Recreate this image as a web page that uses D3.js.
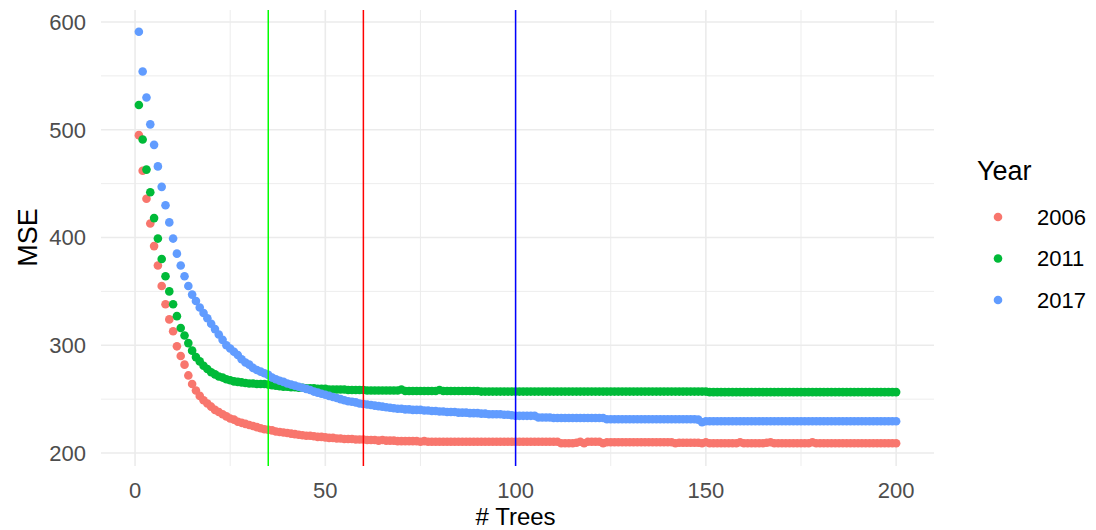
<!DOCTYPE html>
<html>
<head>
<meta charset="utf-8">
<script src="https://cdn.jsdelivr.net/npm/d3@7"></script>
<style>
  body { margin: 0; background: #fff; }
  text { font-family: "Liberation Sans", Arial, sans-serif; }
</style>
</head>
<body>
<div id="chart"></div>
<script>
// MSE by number of trees (trees 1..200)
var years = ['2006', '2011', '2017'];
var colors = ['#F8766D', '#00BA38', '#619CFF'];

var mse2006 = [
  495,462,436,413,392,374,355,338,324,313,
  299,290,282,272,264,258,253,249,246,243,
  240,238,236,234,232,231,229,228,227,226,
  225,224,223,222,221.5,221,220,219.5,219,218.5,
  218,217.5,217,216.5,216,216,215.5,215,215,214.5,
  214,214,213.5,213.5,213,213,213,212.5,212.5,212.5,
  212,212,212,211.5,212,211.5,211.5,211.5,211,211,
  211,211,211,211,210.5,211,210.5,210.5,210.5,210.5,
  210.5,210.5,210.5,210.5,210.5,210.5,210.5,210.5,210.5,210.5,
  210.5,210.5,210.5,210.5,210.5,210.5,210.5,210.5,210.5,210.5,
  210.5,210.5,210.5,210.5,210.5,210.5,210.5,210.5,210.5,210.5,
  210.5,209,209,209,209,209.5,210.5,209,210.5,210.5,
  210.5,210.5,209,210,210,210,210,210,210,210,
  210,210,210,210,210,210,210,210,210,210,
  210,209,209.5,209.5,209.5,209.5,209.5,209.5,209,210,
  209,209,209,209,209,209,209,209,210,209,
  209,209,209,209,209,209.5,210,209,209,209,
  209,209,209,209,209,209,209,210,209,209,
  209,209,209,209,209,209,209,209,209,209,
  209,209,209,209,209,209,209,209,209,209
];

var mse2011 = [
  523,491,463,442,418,399,380,364,350,338,
  327,316,309,302,295,289,285,281,278,275,
  273,271,270,268.5,267.5,266.5,266,265.5,265,264.5,
  264.5,264,264,264,263.5,263,262.5,262,261.5,261.5,
  261,261,260.5,260.5,260,260,260,259.5,259.5,259.5,
  259,259,259,259,259,258.5,258.5,258.5,258.5,258.5,
  258,258,258,258,258,258,258,258,258,259,
  257.5,257.5,257.5,257.5,257.5,257.5,257.5,257.5,257.5,258.5,
  257.5,257.5,257.5,257.5,257.5,257.5,257.5,257.5,257.5,257.5,
  257,257,257,257,257,257,257,257,257,257,
  257,257,257,257,257,257,257,257,257,257,
  257,257,257,257,257,257,257,257,257,257,
  257,257,257,257,257,257,257,257,257,257,
  257,257,257,257,257,257,257,257,257,257,
  257,257,257,257,257,257,257,257,257,257,
  256.5,256.5,256.5,256.5,256.5,256.5,256.5,256.5,256.5,256.5,
  256.5,256.5,256.5,256.5,256.5,256.5,256.5,256.5,256.5,256.5,
  256.5,256.5,256.5,256.5,256.5,256.5,256.5,256.5,256.5,256.5,
  256.5,256.5,256.5,256.5,256.5,256.5,256.5,256.5,256.5,256.5,
  256.5,256.5,256.5,256.5,256.5,256.5,256.5,256.5,256.5,256.5
];

var mse2017 = [
  591,554,530,505,486,466,447,430,414,399,
  385,374,364,355,347,341,335,330,325,320,
  315,310,305,300,297,294,291,287,284,282,
  279,277,275.5,274,272.5,270,268.5,267,266,264.5,
  263.5,262.5,261.5,260.5,259.5,258.5,257,256,255,254,
  253,252,251,250,249,248,247.5,247,246,245.5,
  245,244.5,244,243.5,243,242.5,242,241.5,241,241,
  240.5,240.5,240,240,240,239.5,239.5,239,239,238.5,
  238.5,238,238,238,237.5,237.5,237.5,237,237,237,
  236.5,236.5,236,236,236,236,235.5,235.5,235,234.5,
  234.5,234.5,234.5,234.5,234.5,233,233,233,233,232.5,
  232.5,232.5,232.5,232.5,232.5,232.5,232.5,232.5,232.5,232.5,
  232.5,232.5,232.5,231.3,231.3,231.3,231.3,231.3,231.3,231.3,
  231.3,231.3,231.3,231.3,231.3,231.3,231.3,231.3,231.3,231.3,
  231.3,231.3,231.3,231.3,231.3,231.3,231.3,231,228.5,229.5,
  229.5,229.5,229.5,229.5,229.5,229.5,229.5,229.5,229.5,229.5,
  229.5,229.5,229.5,229.5,229.5,229.5,229.5,229.5,229.5,229.5,
  229.5,229.5,229.5,229.5,229.5,229.5,229.5,229.5,229.5,229.5,
  229.5,229.5,229.5,229.5,229.5,229.5,229.5,229.5,229.5,229.5,
  229.5,229.5,229.5,229.5,229.5,229.5,229.5,229.5,229.5,229.5
];

var series = [mse2006, mse2011, mse2017];

// optimal tree counts marked with vertical lines
var cutTrees = [35, 60, 100];
var cutColors = ['#00FF00', '#FF0000', '#0000FF'];

var xTicks = [0, 50, 100, 150, 200];
var xMinor = [25, 75, 125, 175];
var yTicks = [200, 300, 400, 500, 600];
var yMinor = [250, 350, 450, 550];

(function() {
  var width = 1096;
  var height = 530;
  var panel = { left: 101, right: 934, top: 10, bottom: 466 };

  var svg = d3.select('#chart')
    .append('svg')
    .attr('width', width)
    .attr('height', height);

  var x = d3.scaleLinear().domain([-8.95, 209.95]).range([panel.left, panel.right]);
  var y = d3.scaleLinear().domain([200, 600]).range([453, 22]);

  var grid = svg.append('g');
  grid.selectAll('.vminor').data(xMinor).enter().append('line')
    .attr('x1', x).attr('x2', x).attr('y1', panel.top).attr('y2', panel.bottom)
    .attr('stroke', '#ebebeb').attr('stroke-width', 0.9);
  grid.selectAll('.hminor').data(yMinor).enter().append('line')
    .attr('y1', y).attr('y2', y).attr('x1', panel.left).attr('x2', panel.right)
    .attr('stroke', '#ebebeb').attr('stroke-width', 0.9);
  grid.selectAll('.vmajor').data(xTicks).enter().append('line')
    .attr('x1', x).attr('x2', x).attr('y1', panel.top).attr('y2', panel.bottom)
    .attr('stroke', '#ebebeb').attr('stroke-width', 1.6);
  grid.selectAll('.hmajor').data(yTicks).enter().append('line')
    .attr('y1', y).attr('y2', y).attr('x1', panel.left).attr('x2', panel.right)
    .attr('stroke', '#ebebeb').attr('stroke-width', 1.6);

  // points
  series.forEach(function(vals, s) {
    svg.append('g').selectAll('circle')
      .data(vals)
      .enter()
      .append('circle')
      .attr('cx', function(d, i) { return x(i + 1); })
      .attr('cy', function(d) { return y(d); })
      .attr('r', 4.3)
      .attr('fill', colors[s]);
  });

  svg.append('g').selectAll('line')
    .data(cutTrees)
    .enter()
    .append('line')
    .attr('x1', x).attr('x2', x)
    .attr('y1', panel.top).attr('y2', panel.bottom)
    .attr('stroke', function(d, i) { return cutColors[i]; })
    .attr('stroke-width', 1.5);

  // axes text
  svg.append('g').selectAll('text')
    .data(yTicks)
    .enter()
    .append('text')
    .attr('x', 86)
    .attr('y', y)
    .attr('dy', '0.36em')
    .attr('text-anchor', 'end')
    .attr('font-size', 22)
    .attr('fill', '#4d4d4d')
    .text(function(d) { return d; });

  svg.append('g').selectAll('text')
    .data(xTicks)
    .enter()
    .append('text')
    .attr('x', x)
    .attr('y', 497.5)
    .attr('text-anchor', 'middle')
    .attr('font-size', 22)
    .attr('fill', '#4d4d4d')
    .text(function(d) { return d; });

  svg.append('text')
    .attr('x', x(100))
    .attr('y', 524.5)
    .attr('text-anchor', 'middle')
    .attr('font-size', 24)
    .attr('fill', '#000')
    .text('# Trees');

  svg.append('text')
    .attr('transform', 'translate(37,' + y(400) + ') rotate(-90)')
    .attr('text-anchor', 'middle')
    .attr('font-size', 27)
    .attr('fill', '#000')
    .text('MSE');

  // legend
  var legend = svg.append('g');
  legend.append('text')
    .attr('x', 977)
    .attr('y', 180)
    .attr('font-size', 27)
    .attr('fill', '#000')
    .text('Year');

  var keys = legend.selectAll('.key')
    .data(years)
    .enter()
    .append('g')
    .attr('transform', function(d, i) { return 'translate(998,' + (217 + i * 41.5) + ')'; });
  keys.append('circle')
    .attr('r', 4.3)
    .attr('fill', function(d, i) { return colors[i]; });
  keys.append('text')
    .attr('x', 39)
    .attr('dy', '0.36em')
    .attr('font-size', 22)
    .attr('fill', '#000')
    .text(function(d) { return d; });
})();
</script>
</body>
</html>
